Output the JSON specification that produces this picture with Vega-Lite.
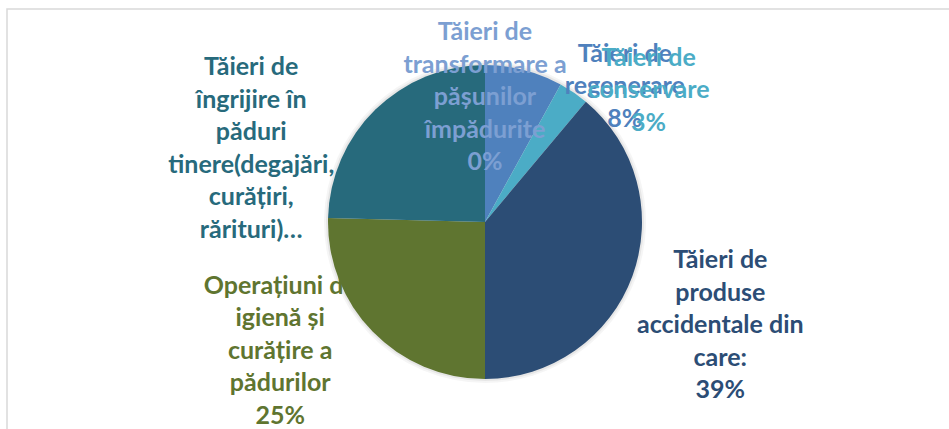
{
  "$schema": "https://vega.github.io/schema/vega-lite/v6.json",
  "width": 956,
  "height": 426,
  "autosize": {"type": "none"},
  "padding": {"left": 7, "top": 9, "right": 0, "bottom": 0},
  "background": "#ffffff",
  "view": {"stroke": "#d9d9d9", "strokeWidth": 1.5, "fill": "#ffffff"},
  "data": {
    "values": [
      {"cat": "Tăieri de regenerare", "rank": 1, "value": 8.0, "label": "Tăieri de\nregenerare\n8%"},
      {"cat": "Tăieri de conservare", "rank": 2, "value": 3.1, "label": "Tăieri de\nconservare\n3%"},
      {"cat": "Tăieri de produse accidentale din care:", "rank": 3, "value": 38.9, "label": "Tăieri de\nproduse\naccidentale din\ncare:\n39%"},
      {"cat": "Operațiuni de igienă și curățire a pădurilor", "rank": 4, "value": 25.4, "label": "Operațiuni de\nigienă și\ncurățire a\npădurilor\n25%"},
      {"cat": "Tăieri de îngrijire în păduri tinere", "rank": 5, "value": 24.6, "label": "Tăieri de\nîngrijire în\npăduri\ntinere(degajări,\ncurățiri,\nrărituri)…"},
      {"cat": "Tăieri de transformare a pășunilor împădurite", "rank": 6, "value": 0.0, "label": "Tăieri de\ntransformare a\npășunilor\nîmpădurite\n0%"}
    ]
  },
  "encoding": {
    "theta": {"field": "value", "type": "quantitative", "stack": true},
    "order": {"field": "rank", "type": "quantitative", "sort": "ascending"},
    "color": {
      "field": "cat",
      "type": "nominal",
      "legend": null,
      "scale": {
        "domain": ["Tăieri de regenerare", "Tăieri de conservare", "Tăieri de produse accidentale din care:", "Operațiuni de igienă și curățire a pădurilor", "Tăieri de îngrijire în păduri tinere", "Tăieri de transformare a pășunilor împădurite"],
        "range": ["#4F81BD", "#4BACC6", "#2C4D75", "#5F7530", "#276A7C", "#7C9FD2"]
      }
    }
  },
  "layer": [
    {"mark": {"type": "arc", "radius": 161, "opacity": 0.04}, "encoding": {"color": {"value": "#000000"}}},
    {"mark": {"type": "arc", "radius": 159, "opacity": 0.06}, "encoding": {"color": {"value": "#000000"}}},
    {
      "mark": {"type": "text", "radius": 242, "thetaOffset": 0.211, "dy": -65, "font": "Lato", "fontWeight": "bold", "fontSize": 25, "lineBreak": "\n", "lineHeight": 32.5, "align": "center", "baseline": "middle"},
      "encoding": {"text": {"condition": {"test": "datum.rank === 4", "field": "label"}, "value": ""}}
    },
    {"mark": {"type": "arc", "radius": 157}},
    {
      "mark": {"type": "text", "radius": 195, "thetaOffset": 0.548, "dy": -32.5, "font": "Lato", "fontWeight": "bold", "fontSize": 25, "lineBreak": "\n", "lineHeight": 32.5, "align": "center", "baseline": "middle"},
      "encoding": {"text": {"condition": {"test": "datum.rank === 1", "field": "label"}, "value": ""}}
    },
    {
      "mark": {"type": "text", "radius": 210, "thetaOffset": 0.293, "dy": -32.5, "font": "Lato", "fontWeight": "bold", "fontSize": 25, "lineBreak": "\n", "lineHeight": 32.5, "align": "center", "baseline": "middle"},
      "encoding": {"text": {"condition": {"test": "datum.rank === 2", "field": "label"}, "value": ""}}
    },
    {
      "mark": {"type": "text", "radius": 257, "thetaOffset": 0.065, "dy": -65, "font": "Lato", "fontWeight": "bold", "fontSize": 25, "lineBreak": "\n", "lineHeight": 32.5, "align": "center", "baseline": "middle"},
      "encoding": {"text": {"condition": {"test": "datum.rank === 3", "field": "label"}, "value": ""}}
    },
    {
      "mark": {"type": "text", "radius": 245, "thetaOffset": -0.494, "dy": -81.25, "font": "Lato", "fontWeight": "bold", "fontSize": 25, "lineBreak": "\n", "lineHeight": 32.5, "align": "center", "baseline": "middle"},
      "encoding": {"text": {"condition": {"test": "datum.rank === 5", "field": "label"}, "value": ""}}
    },
    {
      "mark": {"type": "text", "radius": 125, "thetaOffset": 0, "dy": -65, "font": "Lato", "fontWeight": "bold", "fontSize": 25, "lineBreak": "\n", "lineHeight": 32.5, "align": "center", "baseline": "middle"},
      "encoding": {"text": {"condition": {"test": "datum.rank === 6", "field": "label"}, "value": ""}}
    }
  ]
}
